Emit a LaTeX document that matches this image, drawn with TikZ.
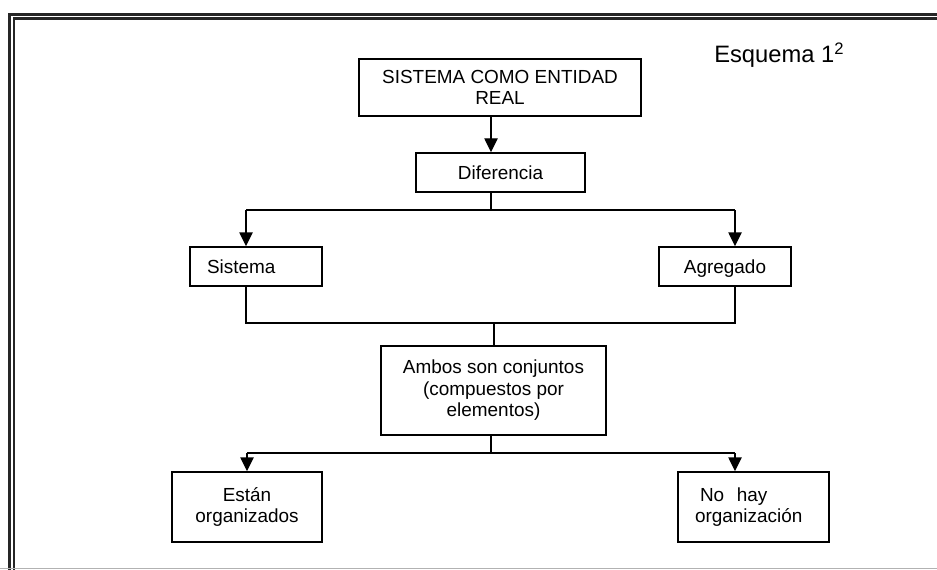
\documentclass[tikz,border=0pt]{standalone}
\usepackage{fontspec}
\setmainfont{Liberation Sans}
\usetikzlibrary{arrows.meta}

\tikzset{
  box/.style={draw=black, line width=1.1pt, rectangle, inner sep=0pt,
    align=center, font=\fontsize{14.2}{16.1}\selectfont},
  oneline/.style={text height=9.9pt, text depth=0pt},
  conn/.style={draw=black, line width=1.1pt},
  arr/.style={conn, -{Triangle[width=10pt,length=10.5pt]}},
  frame/.style={draw=black!85, line width=1.7pt}
}

\begin{document}
\begin{tikzpicture}[x=0.75pt, y=-0.75pt]
  \useasboundingbox (0,0) rectangle (937,570);
  \fill[white] (0,0) rectangle (937,570);

  % double frame, open to the right and bottom
  \draw[frame] (9.5,570) -- (9.5,14.5) -- (937,14.5);
  \draw[frame] (14,570) -- (14,18.5) -- (937,18.5);
  \draw[black!30, line width=1pt] (0,568.5) -- (937,568.5);

  % title
  \node[anchor=base west, font=\fontsize{17.8}{20}\selectfont, inner sep=0pt]
    (title) at (714,63) {Esquema 1\textsuperscript{2}};

  % boxes
  \node[box, minimum width=282*0.75pt, minimum height=57*0.75pt] (top) at (500,87.5)
    {SISTEMA COMO ENTIDAD\\REAL};
  \node[box, oneline, minimum width=169*0.75pt, minimum height=39*0.75pt] (dif) at (500.5,172.5)
    {Diferencia};
  \node[box, oneline, minimum width=132*0.75pt, minimum height=39*0.75pt,
        text width=98*0.75pt, align=left, inner xsep=17*0.75pt] (sis) at (256,266.5)
    {Sistema};
  \node[box, oneline, minimum width=132*0.75pt, minimum height=39*0.75pt] (agr) at (725,266.5)
    {Agregado};
  \node[box, minimum width=225*0.75pt, minimum height=89*0.75pt] (amb) at (493.5,390.5)
    {Ambos son conjuntos\\(compuestos por\\elementos)};
  \node[box, minimum width=150*0.75pt, minimum height=70*0.75pt] (est) at (247,507)
    {Están\\organizados};
  \node[box, minimum width=151*0.75pt, minimum height=70*0.75pt,
        text width=117*0.75pt, align=left, inner xsep=17*0.75pt] (noh) at (753.5,507)
    {\hspace{3.75pt}No\ \ hay\\organización};

  % junction points of the connectors
  \coordinate (c1) at (491,0);
  \coordinate (j1) at (491,210);
  \coordinate (l1) at (246,210);
  \coordinate (r1) at (735,210);
  \coordinate (l2) at (246,323);
  \coordinate (m2) at (494,323);
  \coordinate (r2) at (735,323);
  \coordinate (j3) at (491,453);
  \coordinate (l3) at (247,453);
  \coordinate (r3) at (735,453);

  % connectors
  \draw[arr] (top.south -| c1) -- (dif.north -| c1);
  \draw[conn] (dif.south -| j1) -- (j1);
  \draw[conn] (l1) -- (r1);
  \draw[arr] (l1) -- (sis.north -| l1);
  \draw[arr] (r1) -- (agr.north -| r1);

  \draw[conn] (sis.south -| l2) -- (l2) -- (r2) -- (agr.south -| r2);
  \draw[conn] (m2) -- (amb.north -| m2);

  \draw[conn] (amb.south -| j3) -- (j3);
  \draw[conn] (l3) -- (r3);
  \draw[arr] (l3) -- (est.north -| l3);
  \draw[arr] (r3) -- (noh.north -| r3);
\end{tikzpicture}
\end{document}
